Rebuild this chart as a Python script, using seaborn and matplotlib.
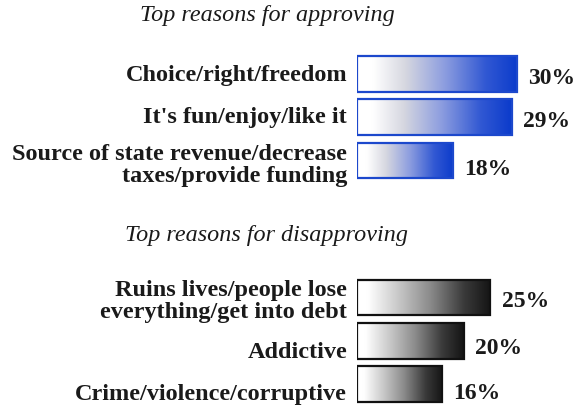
import numpy as np
import matplotlib
import matplotlib.pyplot as plt
import seaborn as sns
from matplotlib.colors import LinearSegmentedColormap

matplotlib.use('Agg')

# Data
approve_labels = ['Choice/right/freedom',
                  "It's fun/enjoy/like it",
                  'Source of state revenue/decrease\ntaxes/provide funding']
approve_values = [30, 29, 18]

disapprove_labels = ['Ruins lives/people lose\neverything/get into debt',
                     'Addictive',
                     'Crime/violence/corruptive']
disapprove_values = [25, 20, 16]

sns.set_theme(style='white')
plt.rcParams['font.family'] = ['Liberation Serif', 'DejaVu Serif']

blue_cmap = LinearSegmentedColormap.from_list(
    'bl', [(0, 'white'), (0.1, 'white'), (0.3, '#d6d7e0'), (0.55, '#8b9cdf'),
           (0.8, '#3158d3'), (1, '#0b3bcb')])
dark_cmap = LinearSegmentedColormap.from_list(
    'dk', [(0, 'white'), (0.08, 'white'), (0.3, '#cacaca'), (0.55, '#8a8a8a'),
           (0.8, '#3a3a3a'), (1, '#141414')])

fig = plt.figure(figsize=(5.88, 4.06), dpi=100)
ax_top = fig.add_axes([0.607, 0.549, 0.393, 0.3195])
ax_bot = fig.add_axes([0.607, -0.0015, 0.393, 0.3195])


def draw(ax, labels, values, cmap, edge, lab_dy, pct_dy):
    sns.barplot(x=values, y=labels, ax=ax, orient='h', color='white',
                width=0.83, edgecolor=edge, linewidth=1.6, saturation=1)
    grad = np.linspace(0, 1, 256).reshape(1, -1)
    for p in ax.patches:
        x0, y0, w, h = p.get_x(), p.get_y(), p.get_width(), p.get_height()
        im = ax.imshow(grad, extent=(x0, x0 + w, y0 + h, y0), cmap=cmap,
                       aspect='auto', zorder=1, interpolation='bicubic')
        im.set_clip_path(p)
        p.set_facecolor('none')
        p.set_zorder(2)
    ax.set_xlim(0, 43.26)
    ax.set_ylim(2.5, -0.5)
    ax.set(xticks=[], yticks=[], xlabel='', ylabel='')
    sns.despine(ax=ax, left=True, bottom=True)

    for i, (lab, v) in enumerate(zip(labels, values)):
        ax.annotate(lab, xy=(0, i), xycoords=('axes fraction', 'data'),
                    xytext=(-7, -lab_dy[i]), textcoords='offset points',
                    ha='right', va='center', fontsize=17.5, fontweight='bold',
                    linespacing=1.05, color='#1a1a1a')
        ax.annotate(f'{v}%', xy=(v, i), xytext=(8, -pct_dy[i]),
                    textcoords='offset points', ha='left', va='center',
                    fontsize=17, fontweight='bold', color='#1a1a1a')


draw(ax_top, approve_labels, approve_values, blue_cmap, '#1c48cc',
     [0.5, -0.5, 3], [2.5, 2.5, 6])
draw(ax_bot, disapprove_labels, disapprove_values, dark_cmap, '#111111',
     [2, 7.5, 6.5], [2.5, 4.5, 6])

fig.text(0.455, 0.963, 'Top reasons for approving', ha='center', va='center',
         fontsize=17.4, style='italic', color='#1a1a1a')
fig.text(0.453, 0.421, 'Top reasons for disapproving', ha='center', va='center',
         fontsize=17.4, style='italic', color='#1a1a1a')

plt.savefig('out.png', dpi=100)
